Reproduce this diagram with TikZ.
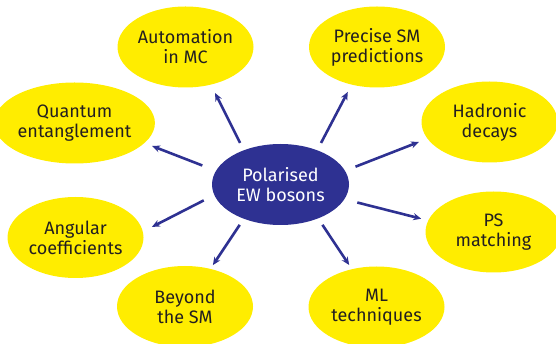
\documentclass[tikz,border=0pt]{standalone}
\usepackage{fontspec}
\setmainfont{Fira Sans}
\usetikzlibrary{arrows.meta,shapes.geometric}
\definecolor{bosonblue}{RGB}{46,49,146}
\definecolor{topicyellow}{RGB}{255,237,0}
\definecolor{topictext}{RGB}{35,31,32}
\begin{document}
\begin{tikzpicture}[x=1pt,y=-1pt,auto,
	topic node/.style = {ellipse,fill=topicyellow,text=topictext,inner sep=0pt,outer sep=0pt,
		minimum width=136pt,minimum height=81pt,align=center,font=\fontsize{18}{20}\selectfont},
	core node/.style = {topic node,fill=bosonblue,text=white,minimum width=137pt},
	link/.style = {-{Stealth[length=8pt,width=7pt]},draw=bosonblue,line width=2.6pt}]
	
	\clip (0,0) rectangle (556,344);
	\node[core node] (ew) at (280.5,184.5) {Polarised\\EW bosons};
	\node[topic node] (auto) at (185.5,47) {Automation\\in MC};
	\node[topic node] (prec) at (377,47) {Precise SM\\predictions};
	\node[topic node] (quant) at (74.5,123) {Quantum\\entanglement};
	\node[topic node] (hadr) at (489.5,122) {Hadronic\\decays};
	\node[topic node] (ang) at (75.5,237.5) {Angular\\coefficients};
	\node[topic node] (ps) at (493.5,232) {PS\\matching};
	\node[topic node] (bsm) at (185,306.5) {Beyond\\the SM};
	\node[topic node] (ml) at (376.5,307) {ML\\techniques};
	
	\path
	(ew.137.2) edge[link,shorten <=8.3pt,shorten >=9.4pt] (auto.-56.1)
	(ew.43.1) edge[link,shorten <=8.3pt,shorten >=8.3pt] (prec.236.3)
	(ew.168.3) edge[link,shorten <=14.7pt,shorten >=8.2pt] (quant.-16.6)
	(ew.12.8) edge[link,shorten <=11.3pt,shorten >=9.2pt] (hadr.195.2)
	(ew.189.6) edge[link,shorten <=11.9pt,shorten >=10.3pt] (ang.5)
	(ew.-13.5) edge[link,shorten <=13.4pt,shorten >=7.3pt] (ps.170.3)
	(ew.223.4) edge[link,shorten <=7.4pt,shorten >=4.6pt] (bsm.56)
	(ew.-42.5) edge[link,shorten <=7.8pt,shorten >=5.1pt] (ml.123.1);
\end{tikzpicture}
\end{document}
